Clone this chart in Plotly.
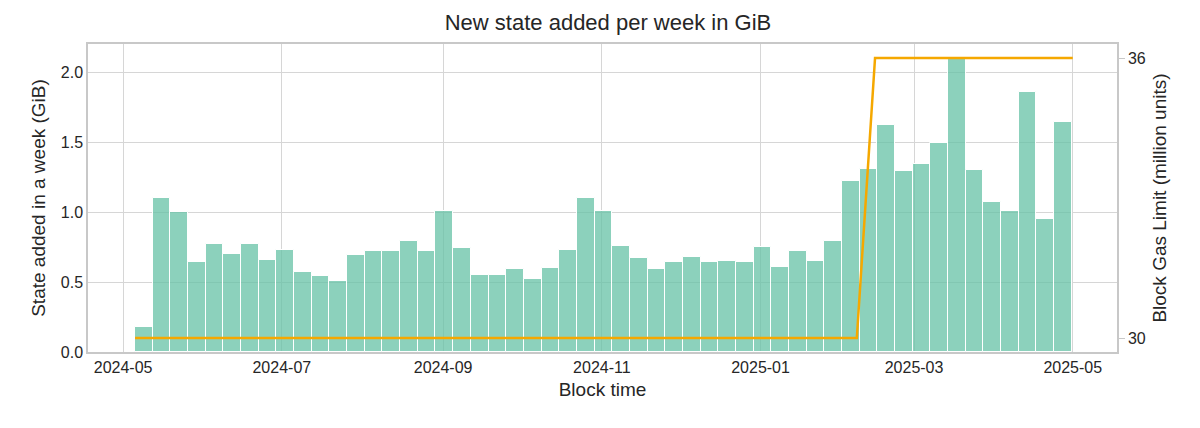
import plotly.graph_objects as go
import pandas as pd

state_gib = [0.18, 1.10, 1.00, 0.64, 0.77, 0.70, 0.77, 0.66, 0.73, 0.57, 0.54, 0.51, 0.69, 0.72,
             0.72, 0.79, 0.72, 1.01, 0.74, 0.55, 0.55, 0.59, 0.52, 0.60, 0.73, 1.10, 1.01, 0.76,
             0.67, 0.59, 0.64, 0.68, 0.64, 0.65, 0.64, 0.75, 0.61, 0.72, 0.65, 0.79, 1.22, 1.31,
             1.62, 1.29, 1.34, 1.49, 2.09, 1.30, 1.07, 1.01, 1.86, 0.95, 1.64]
bin_start = pd.Timestamp("2024-05-05 14:00")
bin_end = pd.Timestamp("2025-04-30 14:00")
n = len(state_gib)
pitch = (bin_end - bin_start) / n
week_center = [bin_start + pitch * (i + 0.5) for i in range(n)]
bar_width_ms = pitch.total_seconds() * 1000

gas_dates = ["2024-05-05 14:00", "2025-02-07", "2025-02-14", "2025-05-01"]
gas_limit = [30, 30, 36, 36]

x_ticks = ["2024-05-01", "2024-07-01", "2024-09-01", "2024-11-01", "2025-01-01", "2025-03-01", "2025-05-01"]
x_labels = ["2024-05", "2024-07", "2024-09", "2024-11", "2025-01", "2025-03", "2025-05"]

fig = go.Figure()
fig.add_trace(go.Bar(x=week_center, y=state_gib, width=bar_width_ms,
                     marker=dict(color="rgba(102,194,165,0.75)", line=dict(color="white", width=1)),
                     showlegend=False))
fig.add_trace(go.Scatter(x=gas_dates, y=gas_limit, mode="lines", yaxis="y2",
                         line=dict(color="#F5A800", width=2.5), showlegend=False))

grid = "#d6d6d6"
fig.update_layout(
    width=1200, height=428, margin=dict(l=80, r=91, t=36, b=84),
    plot_bgcolor="white", paper_bgcolor="white",
    font=dict(family="Liberation Sans, Arial", size=16, color="#262626"),
    title=dict(text="New state added per week in GiB", x=0.5, xanchor="center", y=0.985, yanchor="top",
               font=dict(size=22)),
    bargap=0,
    xaxis=dict(range=["2024-04-17 12:00", "2025-05-18"], tickvals=x_ticks, ticktext=x_labels,
               showgrid=True, gridcolor=grid, gridwidth=1.3, showline=True, linecolor="#c8c8c8", mirror=True,
               linewidth=1.5, title=dict(text="Block time", standoff=8), ticks=""),
    yaxis=dict(range=[0, 2.2], tickvals=[0, 0.5, 1, 1.5, 2], ticktext=["0.0", "0.5", "1.0", "1.5", "2.0"],
               showgrid=True, gridcolor=grid, gridwidth=1.3, showline=True, linecolor="#c8c8c8", linewidth=1.5,
               zeroline=False, title=dict(text="State added in a week (GiB)", standoff=10), ticks=""),
    yaxis2=dict(range=[29.7, 36.3], tickvals=[30, 36], overlaying="y", side="right", showgrid=False,
                zeroline=False, showline=True, linecolor="#c8c8c8", linewidth=1.5,
                ticks="outside", ticklen=6, tickcolor="#c8c8c8",
                title=dict(text="Block Gas Limit (million units)", standoff=8)),
)
fig.write_html("out.html")
